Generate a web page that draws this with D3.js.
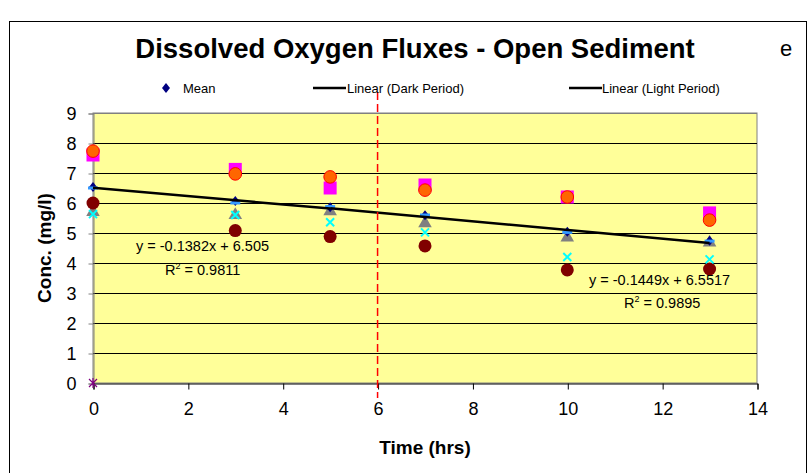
<!DOCTYPE html>
<html><head><meta charset="utf-8">
<script src="https://cdn.jsdelivr.net/npm/d3@7"></script>
<style>body{margin:0;background:#fff}svg{display:block;font-family:"Liberation Sans",Arial,sans-serif}</style>
</head><body><svg id="c" width="809" height="473"></svg>
<script>
const times = [0, 3, 5, 7, 10, 13];
const seriesMagenta = [7.6, 7.12, 6.5, 6.6, 6.2, 5.67];
const seriesOrange = [7.73, 6.97, 6.87, 6.43, 6.2, 5.43];
const seriesGray = [5.7, 5.6, 5.72, 5.32, 4.85, 4.68];
const seriesCyan = [5.63, 5.6, 5.36, 5.02, 4.2, 4.12];
const seriesDarkRed = [6.0, 5.08, 4.88, 4.57, 3.77, 3.8];
const seriesBlue = [6.5, 6.0, 5.88, 5.6, 5.02, 4.73];
const meanValues = [6.53, 6.07, 5.86, 5.59, 5.04, 4.74];
const zeroTimes = [0];
const zeroValues = [0];
const darkFit = {slope: -0.1382, intercept: 6.505, from: 0, to: 5};
const lightFit = {slope: -0.1449, intercept: 6.5517, from: 5, to: 13};
const xTicks = [0, 2, 4, 6, 8, 10, 12, 14];
const yTicks = [0, 1, 2, 3, 4, 5, 6, 7, 8, 9];
const boundaryTime = 6;

const svg = d3.select("#c");
const x = d3.scaleLinear().domain([0, 14]).range([93, 757]);
const y = d3.scaleLinear().domain([0, 9]).range([383, 113]);

svg.append("rect").attr("x", 9.5).attr("y", 21.5).attr("width", 797).attr("height", 470)
  .attr("fill", "#fff").attr("stroke", "#000").attr("stroke-width", 1);

svg.append("rect").attr("x", x(0)).attr("y", y(9)).attr("width", x(14) - x(0)).attr("height", y(0) - y(9))
  .attr("fill", "#FFFF99").attr("stroke", "#808080").attr("stroke-width", 1);

svg.append("g").selectAll("line").data(yTicks.filter(d => d > 0)).join("line")
  .attr("x1", x(0)).attr("x2", x(14)).attr("y1", d => Math.round(y(d)) + 0.5).attr("y2", d => Math.round(y(d)) + 0.5)
  .attr("stroke", d => d === 9 ? "#808080" : "#000").attr("stroke-width", 1);

const yAxis = d3.axisLeft(y).tickValues(yTicks).tickSize(5).tickPadding(12).tickFormat(d3.format("d"));
const gy = svg.append("g").attr("transform", `translate(${x(0) + 0.5},0.5)`).call(yAxis);
gy.select(".domain").attr("stroke", "#808080");
gy.selectAll(".tick line").attr("stroke", "#808080");
gy.selectAll("text").attr("font-size", 18).attr("fill", "#000").attr("font-family", "Liberation Sans, Arial");

const xAxis = d3.axisBottom(x).tickValues(xTicks).tickSize(6).tickSizeOuter(6).tickPadding(13).tickFormat(d3.format("d"));
const gx = svg.append("g").attr("transform", `translate(0.5,${y(0) + 0.5})`).call(xAxis);
gx.select(".domain").attr("stroke", "#000");
gx.selectAll(".tick line").attr("stroke", "#000");
gx.selectAll("text").attr("font-size", 18).attr("fill", "#000").attr("font-family", "Liberation Sans, Arial");

const pts = vals => times.map((t, i) => [t, vals[i]]);
const layer = svg.append("g");
layer.selectAll(".tri").data(pts(seriesGray)).join("path")
  .attr("d", d3.symbol(d3.symbolTriangle, 80))
  .attr("transform", d => `translate(${x(d[0])},${y(d[1])})`).attr("fill", "#808080");
layer.selectAll(".sq").data(pts(seriesMagenta)).join("rect")
  .attr("x", d => x(d[0]) - 6.5).attr("y", d => y(d[1]) - 6.5).attr("width", 13).attr("height", 13)
  .attr("fill", "#FF00FF");
layer.selectAll(".oc").data(pts(seriesOrange)).join("circle")
  .attr("cx", d => x(d[0])).attr("cy", d => y(d[1])).attr("r", 6.3)
  .attr("fill", "#FF6600").attr("stroke", "#FF0000").attr("stroke-width", 1);
layer.selectAll(".dr").data(pts(seriesDarkRed)).join("circle")
  .attr("cx", d => x(d[0])).attr("cy", d => y(d[1])).attr("r", 6.5)
  .attr("fill", "#800000");
layer.selectAll(".cx").data(pts(seriesCyan)).join("path")
  .attr("d", "M-4,-4L4,4M-4,4L4,-4")
  .attr("transform", d => `translate(${x(d[0])},${y(d[1])})`).attr("stroke", "#00FFFF").attr("stroke-width", 2).attr("fill", "none");
layer.selectAll(".mn").data(pts(meanValues)).join("path")
  .attr("d", "M0,-5L4,0L0,5L-4,0Z")
  .attr("transform", d => `translate(${x(d[0])},${y(d[1])})`).attr("fill", "#000080");
layer.selectAll(".bd").data(pts(seriesBlue)).join("rect")
  .attr("x", d => x(d[0]) - 5).attr("y", d => y(d[1]) - 1.5).attr("width", 10).attr("height", 3)
  .attr("fill", "#3399FF");
layer.selectAll(".ast").data(zeroTimes.map((t, i) => [t, zeroValues[i]])).join("path")
  .attr("d", "M-4,-4L4,4M-4,4L4,-4M0,-5L0,5")
  .attr("transform", d => `translate(${x(d[0])},${y(d[1])})`).attr("stroke", "#800080").attr("stroke-width", 1.2).attr("fill", "none");

[darkFit, lightFit].forEach(f => {
  svg.append("line")
    .attr("x1", x(f.from)).attr("y1", y(f.slope * f.from + f.intercept))
    .attr("x2", x(f.to)).attr("y2", y(f.slope * f.to + f.intercept))
    .attr("stroke", "#000").attr("stroke-width", 2.5);
});

svg.append("line").attr("x1", x(boundaryTime)).attr("x2", x(boundaryTime))
  .attr("y1", 92).attr("y2", 398)
  .attr("stroke", "#FF0000").attr("stroke-width", 1.5).attr("stroke-dasharray", "8,4");

const eq = (tx, ty, txt) => svg.append("text").attr("x", tx).attr("y", ty).attr("font-size", 14.5).text(txt);
eq(136, 251, "y = -0.1382x + 6.505");
const r1 = svg.append("text").attr("x", 165).attr("y", 275).attr("font-size", 14.5);
r1.append("tspan").text("R");
r1.append("tspan").attr("font-size", 9).attr("dy", -6).text("2");
r1.append("tspan").attr("dy", 6).text(" = 0.9811");
eq(589, 285, "y = -0.1449x + 6.5517");
const r2 = svg.append("text").attr("x", 624).attr("y", 308).attr("font-size", 14.5);
r2.append("tspan").text("R");
r2.append("tspan").attr("font-size", 9).attr("dy", -6).text("2");
r2.append("tspan").attr("dy", 6).text(" = 0.9895");

svg.append("text").attr("x", 415).attr("y", 58).attr("text-anchor", "middle")
  .attr("font-size", 27.5).attr("font-weight", "bold").text("Dissolved Oxygen Fluxes - Open Sediment");
svg.append("text").attr("x", 786).attr("y", 56).attr("text-anchor", "middle")
  .attr("font-size", 22).text("e");

const lg = svg.append("g").attr("font-size", 13);
lg.append("path").attr("d", "M0,-5L4,0L0,5L-4,0Z").attr("transform", "translate(166,88)").attr("fill", "#000080");
lg.append("text").attr("x", 183).attr("y", 93).text("Mean");
lg.append("line").attr("x1", 313).attr("x2", 346).attr("y1", 88).attr("y2", 88).attr("stroke", "#000").attr("stroke-width", 2.5);
lg.append("text").attr("x", 347).attr("y", 93).text("Linear (Dark Period)");
lg.append("line").attr("x1", 569).attr("x2", 602).attr("y1", 88).attr("y2", 88).attr("stroke", "#000").attr("stroke-width", 2.5);
lg.append("text").attr("x", 602).attr("y", 93).text("Linear (Light Period)");

svg.append("text").attr("x", 425).attr("y", 454).attr("text-anchor", "middle")
  .attr("font-size", 19).attr("font-weight", "bold").text("Time (hrs)");
svg.append("text").attr("transform", "translate(51,248) rotate(-90)").attr("text-anchor", "middle")
  .attr("font-size", 19).attr("font-weight", "bold").text("Conc. (mg/l)");
</script></body></html>
